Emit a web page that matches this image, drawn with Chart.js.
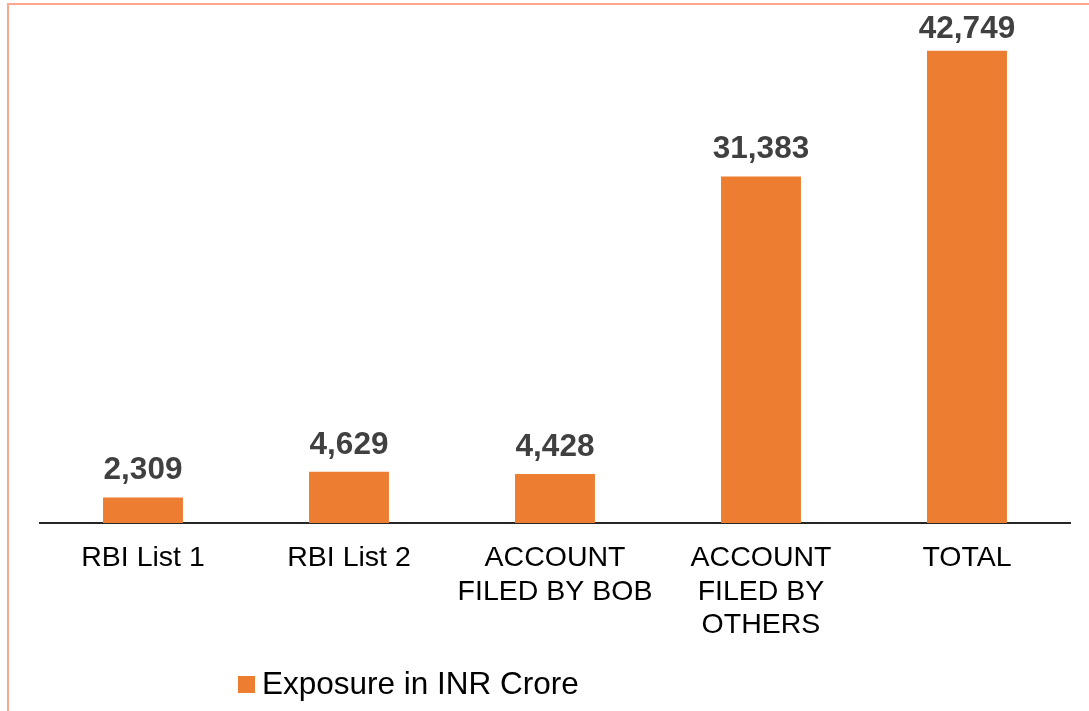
<!DOCTYPE html>
<html>
<head>
<meta charset="utf-8">
<script src="https://cdn.jsdelivr.net/npm/chart.js@4/dist/chart.umd.min.js"></script>
<style>
  html, body { margin: 0; padding: 0; background: #fff; }
  #wrap { position: relative; width: 1089px; height: 711px; overflow: hidden; }
  #frame { position: absolute; left: 7px; top: 3px; width: 1200px; height: 800px;
           border-left: 2px solid #fba68e; border-top: 2px solid #fba68e; box-sizing: border-box; }
  canvas { position: absolute; left: 0; top: 0; }
</style>
</head>
<body>
<div id="wrap">
  <div id="frame"></div>
  <canvas id="c" width="1089" height="711"></canvas>
</div>
<script>
const categories = [
  "RBI List 1",
  "RBI List 2",
  ["ACCOUNT", "FILED BY BOB"],
  ["ACCOUNT", "FILED BY", "OTHERS"],
  "TOTAL"
];
const seriesName = "Exposure in INR Crore";
const exposure = [2309, 4629, 4428, 31383, 42749];
const barColor = "#ED7D31";
const FONT = "'Liberation Sans', Arial, Helvetica, sans-serif";

const valueLabels = {
  id: "valueLabels",
  afterDatasetsDraw(chart) {
    const ctx = chart.ctx;
    const meta = chart.getDatasetMeta(0);
    ctx.save();
    ctx.font = "bold 31.5px " + FONT;
    ctx.fillStyle = "#404040";
    ctx.textAlign = "center";
    ctx.textBaseline = "alphabetic";
    meta.data.forEach((bar, i) => {
      const v = chart.data.datasets[0].data[i];
      const txt = v.toLocaleString("en-US");
      let y = bar.y - 18;
      if (y < 38) y = 38;
      ctx.fillText(txt, bar.x, y);
    });
    ctx.restore();
  }
};

const customLegend = {
  id: "customLegend",
  afterDraw(chart) {
    const ctx = chart.ctx;
    const ds = chart.data.datasets[0];
    ctx.save();
    ctx.fillStyle = ds.backgroundColor;
    ctx.fillRect(238, 676, 17, 17);
    ctx.font = "31.5px " + FONT;
    ctx.fillStyle = "#000000";
    ctx.textAlign = "left";
    ctx.textBaseline = "middle";
    ctx.fillText(ds.label, 262, 685);
    ctx.restore();
  }
};

new Chart(document.getElementById("c"), {
  type: "bar",
  data: {
    labels: categories,
    datasets: [{
      label: seriesName,
      data: exposure,
      backgroundColor: barColor,
      borderWidth: 0,
      categoryPercentage: 0.8,
      barPercentage: 0.485
    }]
  },
  options: {
    responsive: false,
    animation: false,
    devicePixelRatio: 1,
    layout: { padding: { left: 40, right: 19, top: 26, bottom: 58 } },
    plugins: {
      legend: { display: false },
      tooltip: { enabled: false }
    },
    scales: {
      x: {
        grid: { display: false },
        border: { display: true, color: "#262626", width: 2 },
        ticks: {
          color: "#000000",
          font: { family: FONT, size: 28.5, lineHeight: 1.17 },
          padding: 11,
          maxRotation: 0,
          autoSkip: false
        }
      },
      y: {
        display: false,
        min: 0,
        max: 45000
      }
    }
  },
  plugins: [valueLabels, customLegend]
});
</script>
</body>
</html>
